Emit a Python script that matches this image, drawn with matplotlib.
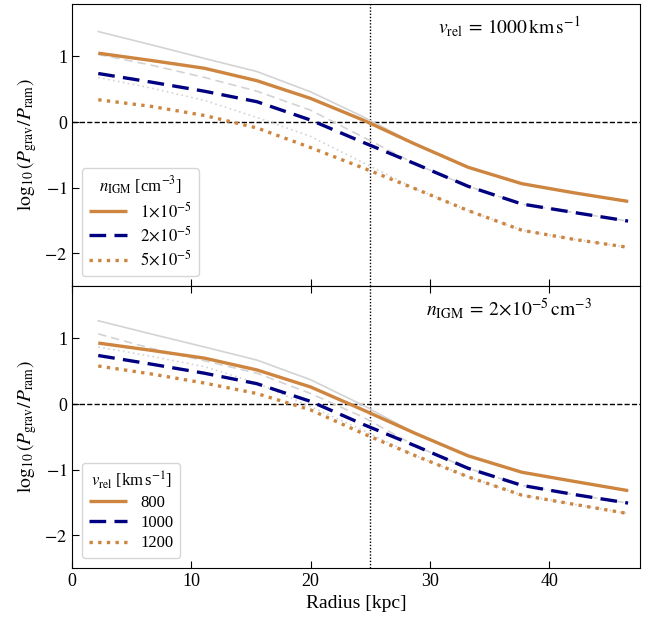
import numpy as np
import matplotlib
matplotlib.use('Agg')
from matplotlib import pyplot as plt

plt.rcParams['font.family'] = ['Liberation Serif', 'DejaVu Serif']
plt.rcParams['mathtext.fontset'] = 'stix'
plt.rcParams['font.size'] = 13

# radial bins [kpc]
radius = [2.2, 6.6, 11.1, 15.5, 20.0, 24.4, 28.8, 33.2, 37.7, 42.1, 46.6]

# top panel: v_rel = 1000 km/s, varying n_IGM
n_labels = [r'$1\!\times\!10^{-5}$', r'$2\!\times\!10^{-5}$', r'$5\!\times\!10^{-5}$']
top_main = [
    [1.05, 0.94, 0.82, 0.63, 0.36, 0.03, -0.34, -0.69, -0.94, -1.08, -1.21],
    [0.74, 0.61, 0.47, 0.31, 0.03, -0.31, -0.64, -0.98, -1.25, -1.38, -1.51],
    [0.34, 0.24, 0.10, -0.09, -0.39, -0.70, -1.02, -1.35, -1.65, -1.79, -1.91],
]
top_grey = [
    [1.38, 1.18, 0.97, 0.77, 0.46, 0.08, -0.34, -0.69, -0.94, -1.08, -1.21],
    [1.03, 0.87, 0.68, 0.47, 0.18, -0.23, -0.64, -0.98, -1.25, -1.38, -1.51],
    [0.68, 0.52, 0.33, 0.07, -0.22, -0.62, -1.02, -1.35, -1.65, -1.79, -1.91],
]

# bottom panel: n_IGM = 2e-5, varying v_rel
v_labels = ['800', '1000', '1200']
bot_main = [
    [0.93, 0.82, 0.70, 0.52, 0.26, -0.09, -0.45, -0.79, -1.04, -1.18, -1.32],
    [0.74, 0.61, 0.47, 0.31, 0.04, -0.31, -0.64, -0.98, -1.24, -1.38, -1.51],
    [0.58, 0.46, 0.32, 0.16, -0.09, -0.45, -0.79, -1.11, -1.39, -1.53, -1.67],
]
bot_grey = [
    [1.27, 1.07, 0.87, 0.67, 0.37, -0.02, -0.45, -0.79, -1.04, -1.18, -1.32],
    [1.07, 0.85, 0.66, 0.47, 0.16, -0.20, -0.64, -0.98, -1.24, -1.38, -1.51],
    [0.87, 0.73, 0.57, 0.32, -0.04, -0.40, -0.79, -1.11, -1.39, -1.53, -1.67],
]

colors = ['peru', 'navy', 'peru']
styles = [(0, ()), (0, (5, 2.5)), (0, (1, 1.6))]
grey_styles = ['-', (0, (5, 3)), (0, (1, 2))]

fig = plt.figure(figsize=(6.57, 6.23), dpi=100)
ax1 = fig.add_axes([72/657, 1-286/623, 568/657, 282/623])
ax2 = fig.add_axes([72/657, 1-568/623, 568/657, 282/623], sharex=ax1)

def panel(ax, main, grey, labels, title):
    for y, ls in zip(grey, grey_styles):
        ax.plot(radius, y, color='lightgrey', lw=1.2, ls=ls, zorder=1)
    for y, c, ls, lab in zip(main, colors, styles, labels):
        ax.plot(radius, y, color=c, lw=2.4, ls=ls, label=lab, zorder=2)
    ax.axhline(0, color='k', ls='--', lw=1, zorder=0)
    ax.axvline(25, color='k', ls=(0, (1, 1.3)), lw=1, zorder=0)
    ax.set_xlim(0, 47.6)
    ax.set_ylim(-2.5, 1.8)
    ax.set_yticks([-2, -1, 0, 1])
    ax.set_yticklabels(['$-2$', '$-1$', '0', '1'])
    ax.set_ylabel(r'$\log_{10}(P_{\rm grav}/P_{\rm ram})$', fontsize=14)
    ax.tick_params(direction='in', length=5, labelsize=13)
    leg = ax.legend(loc='lower left', title=title, fontsize=12,
                    title_fontsize=12, handlelength=2.3, handletextpad=0.8,
                    frameon=True, fancybox=True, borderpad=0.4,
                    labelspacing=0.25, borderaxespad=0.6)
    leg.get_frame().set_edgecolor('0.8')

panel(ax1, top_main, top_grey, n_labels, r'$n_{\rm IGM}$ [cm$^{-3}$]')
panel(ax2, bot_main, bot_grey, v_labels, r'$v_{\rm rel}$ [km$\,$s$^{-1}$]')

ax1.tick_params(labelbottom=False)
ax2.tick_params(top=True)
ax2.set_xlabel('Radius [kpc]', fontsize=14)
ax2.set_xticks([0, 10, 20, 30, 40])

ax1.text(0.77, 0.92, r'$v_{\rm rel}\;=\,1000\,{\rm km\,s^{-1}}$', transform=ax1.transAxes,
         ha='center', va='center', fontsize=14)
ax2.text(0.77, 0.92, r'$n_{\rm IGM}\;=\,2\!\times\!10^{-5}\,{\rm cm^{-3}}$', transform=ax2.transAxes,
         ha='center', va='center', fontsize=14)

fig.savefig('out.png', dpi=100)
